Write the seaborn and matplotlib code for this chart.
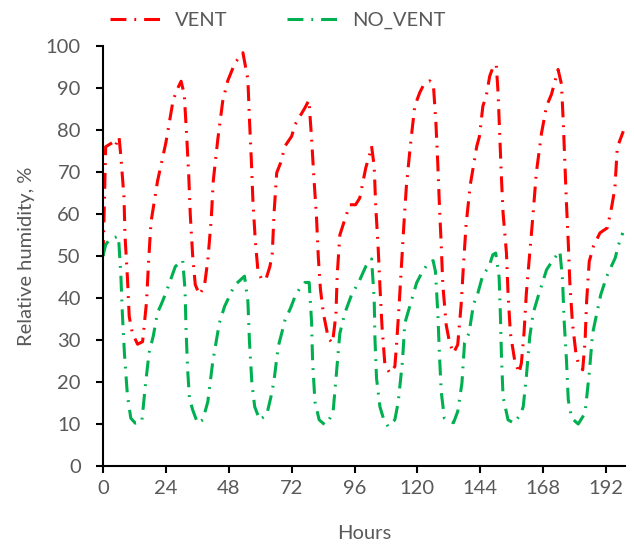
import numpy as np
import pandas as pd
import matplotlib as mpl
import matplotlib.pyplot as plt
import seaborn as sns

sns.set_style("ticks")
plt.rcParams['font.family'] = ['Lato', 'DejaVu Sans']

# values (hours, relative humidity %)
vent_hours = [0.0, 0.5, 1.0, 3.6, 4.6, 6.1, 6.8, 8.0, 8.4, 9.3, 10.0, 11.2, 13.2, 15.1,
              16.6, 17.4, 18.3, 20.8, 24.0, 26.6, 27.8, 29.8, 31.0, 31.9, 32.7, 33.3,
              34.2, 35.2, 36.8, 38.7, 40.0, 41.3, 42.1, 43.8, 45.7, 47.6, 50.4, 53.4,
              55.3, 55.9, 56.6, 57.2, 58.1, 59.1, 60.6, 62.2, 63.7, 64.6, 65.3, 66.3,
              67.8, 69.5, 72.0, 73.3, 75.2, 77.1, 78.6, 79.6, 80.5, 81.5, 82.2, 83.0,
              84.1, 86.0, 87.6, 88.9, 89.4, 90.4, 92.3, 94.2, 96.4, 98.0, 100.3, 101.8,
              102.5, 103.5, 104.1, 105.0, 105.7, 106.5, 107.6, 109.5, 111.4, 112.0,
              113.0, 113.9, 114.8, 115.8, 117.3, 119.0, 120.9, 122.2, 124.7, 126.1,
              127.1, 127.8, 128.4, 129.1, 129.7, 131.0, 132.3, 133.8, 135.4, 136.7,
              137.6, 138.6, 140.2, 142.7, 143.7, 145.0, 146.3, 147.6, 148.9, 150.1,
              150.8, 151.4, 152.0, 152.7, 154.0, 154.6, 155.5, 157.1, 158.8, 159.7,
              160.7, 161.6, 162.9, 164.2, 165.4, 167.4, 169.3, 171.2, 173.7, 175.0,
              175.7, 176.3, 176.9, 177.6, 178.2, 179.2, 180.5, 181.4, 183.1, 184.0,
              184.6, 185.6, 187.2, 189.7, 192.5, 194.2, 195.4, 196.3, 198.6]
vent_rh = [50.0, 62.0, 76.0, 77.0, 76.0, 78.4, 73.8, 64.0, 54.7, 45.0, 35.6, 31.6, 29.0, 29.6,
           39.0, 48.7, 58.0, 67.8, 77.0, 86.5, 89.0, 91.6, 88.5, 79.0, 69.4, 59.9,
           50.3, 43.2, 40.8, 42.8, 49.0, 58.7, 68.0, 77.7, 86.9, 91.7, 96.0, 98.4,
           92.0, 82.5, 73.0, 63.4, 53.9, 46.7, 44.3, 44.5, 47.5, 50.6, 60.3, 69.8,
           72.2, 76.2, 78.5, 81.3, 83.3, 85.3, 87.1, 78.1, 68.6, 59.1, 49.5, 42.0,
           36.4, 30.4, 29.3, 36.0, 45.5, 55.0, 58.7, 62.2, 62.2, 63.8, 71.0, 74.2,
           76.2, 71.4, 61.8, 52.3, 42.8, 33.2, 24.1, 22.1, 23.7, 28.5,
           38.0, 47.5, 57.0, 66.6, 76.2, 85.7, 88.9, 90.5, 91.7, 90.9,
           81.3, 71.8, 62.2, 52.7, 43.2, 33.6, 29.3, 26.9, 28.9, 38.4,
           47.9, 57.5, 67.0, 76.2, 78.5, 85.7, 88.1, 92.8, 95.0, 95.6,
           88.9, 79.3, 69.8, 60.3, 50.7, 41.2, 31.6, 25.3, 22.1, 24.5,
           31.6, 41.2, 50.7, 60.3, 69.8, 79.3, 85.7, 88.5, 94.4, 90.9,
           81.7, 72.2, 62.6, 53.1, 43.6, 34.0, 26.9, 24.5, 22.9, 29.6,
           39.2, 48.7, 52.3, 55.5, 56.7, 61.8, 66.2, 75.8, 79.7]

novent_hours = [0.0, 1.0, 2.6, 5.9, 6.8, 7.4, 8.2, 9.3, 10.6, 12.3, 14.8, 16.3, 17.6, 19.2,
                20.8, 22.3, 24.0, 27.6, 30.4, 31.3, 31.7, 32.3, 33.0, 34.2, 36.1, 38.1,
                40.0, 41.9, 44.4, 46.4, 50.2, 54.0, 55.3, 55.9, 56.8, 57.9, 59.8, 62.5,
                64.4, 65.3, 66.9, 68.2, 69.5, 71.6, 73.3, 75.2, 77.1, 78.7, 79.6, 80.0,
                80.9, 82.5, 84.7, 85.9, 87.8, 89.1, 90.4, 92.3, 94.9, 97.5, 100.3, 102.5,
                103.5, 103.8, 104.4, 105.7, 107.0, 108.8, 111.4, 112.7, 114.3, 115.2,
                116.9, 119.7, 121.6, 124.1, 126.0, 126.9, 127.8, 128.4, 129.1, 130.3,
                132.3, 133.8, 135.4, 137.0, 138.0, 139.7, 141.4, 143.1, 145.0, 147.3,
                148.8, 149.9, 151.2, 151.7, 152.1, 152.7, 154.6, 156.8, 159.3, 160.4,
                161.6, 162.9, 164.2, 166.1, 169.3, 171.8, 174.4, 175.4, 176.0, 176.9,
                177.6, 178.9, 181.4, 184.0, 185.6, 186.9, 188.5, 190.0, 192.3, 195.5,
                196.8, 198.4]
novent_rh = [50.0, 52.7, 54.0, 54.7, 45.5, 36.0, 26.5, 16.9, 11.4, 10.2, 10.6, 20.0, 27.0, 31.0,
             36.5, 38.6, 41.2, 47.5, 49.0, 42.0, 32.4, 22.9, 16.1, 13.4, 10.2, 11.0,
             15.3, 24.9, 34.0, 38.0, 43.0, 45.2, 39.2, 29.6, 20.0, 14.1, 11.0, 12.2,
             17.3, 20.5, 28.5, 31.6, 34.8, 37.6, 40.4, 42.4, 43.7, 43.7, 34.4, 24.9,
             15.3, 11.0, 9.8, 10.6, 12.7, 22.1, 31.6, 36.4, 40.8, 43.6, 47.5, 49.3,
             40.0, 30.4, 20.9, 14.1, 11.4, 9.4, 11.0, 15.3, 24.9, 34.0,
             37.6, 43.6, 45.9, 48.3, 48.9, 46.3, 36.4, 26.9, 17.7, 11.4,
             10.6, 10.3, 13.0, 19.7, 29.3, 31.6, 38.4, 41.2, 45.5, 47.4,
             50.3, 50.7, 45.0, 35.6, 26.0, 16.5, 11.0, 10.2, 12.2, 14.1,
             21.3, 30.8, 36.4, 40.4, 46.7, 49.1, 51.1, 44.4, 34.8, 25.3,
             15.7, 11.4, 10.0, 12.6, 22.1, 31.6, 36.4, 40.8, 45.2, 49.5,
             52.7, 55.5]

series_names = ["VENT", "NO_VENT"]
series_colors = {"VENT": "#FF0000", "NO_VENT": "#00B050"}
dash_dot = (0, (5.2, 2.6, 0.6, 2.6))

df = pd.concat([
    pd.DataFrame({"Hours": vent_hours, "RH": vent_rh, "series": "VENT"}),
    pd.DataFrame({"Hours": novent_hours, "RH": novent_rh, "series": "NO_VENT"}),
], ignore_index=True)

fig = plt.figure(figsize=(6.34, 5.46), dpi=100)
ax = fig.add_axes([0.1625, 0.1465, 0.8235, 0.7693])

sns.lineplot(data=df, x="Hours", y="RH", hue="series", hue_order=series_names,
             palette=series_colors, estimator=None, sort=False, linewidth=2.2, ax=ax)
for line in ax.get_lines():
    line.set_linestyle(dash_dot)

grey = "#595959"
ax.set_xlim(0, 199.3)
ax.set_ylim(0, 100)
ax.set_xticks(np.arange(0, 193, 24))
ax.set_yticks(np.arange(0, 101, 10))
ax.tick_params(axis="both", colors="black", labelcolor=grey, labelsize=14.5,
               length=5, width=1.5, direction="out")
ax.tick_params(axis="y", pad=11)
ax.tick_params(axis="x", pad=5)
for side in ["left", "bottom"]:
    ax.spines[side].set_linewidth(1.5)
    ax.spines[side].set_color("black")
ax.spines["top"].set_visible(False)
ax.spines["right"].set_visible(False)
ax.set_xlabel("Hours", fontsize=14.5, color=grey, labelpad=20)
ax.set_ylabel("Relative humidity, %", fontsize=14.5, color=grey, labelpad=8)

handles, labels = ax.get_legend_handles_labels()
ax.get_legend().remove()
for h in handles:
    h.set_linestyle(dash_dot)
fig.legend(handles, labels, loc="center", bbox_to_anchor=(0.438, 0.963), ncol=2,
           frameon=False, fontsize=14.5, labelcolor=grey, handlelength=2.6,
           columnspacing=3.0, handletextpad=0.6)

fig.savefig("out.png", dpi=100)
